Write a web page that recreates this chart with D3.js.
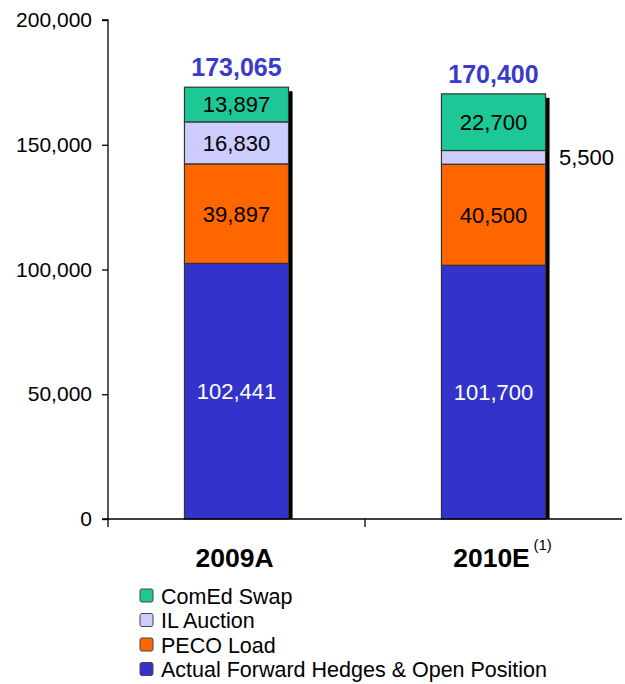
<!DOCTYPE html>
<html>
<head>
<meta charset="utf-8">
<script src="https://cdn.jsdelivr.net/npm/d3@7"></script>
<style>
  body { margin: 0; background: #fff; }
  svg { font-family: "Liberation Sans", Arial, sans-serif; }
</style>
</head>
<body>
<svg width="625" height="684"></svg>
<script>
// data
const categories = ["2009A", "2010E"];
const seriesNames = ["Actual Forward Hedges & Open Position", "PECO Load", "IL Auction", "ComEd Swap"];
const hedges = [102441, 101700];
const pecoLoad = [39897, 40500];
const ilAuction = [16830, 5500];
const comedSwap = [13897, 22700];
const totals = [173065, 170400];
const yTicks = [0, 50000, 100000, 150000, 200000];
const colors = ["#3333cc", "#ff6600", "#ccccff", "#1ec896"];

const svg = d3.select("svg");

const x = d3.scaleBand()
    .domain(categories)
    .range([108, 622])
    .paddingInner(0.595)
    .paddingOuter(0.2975);

const y = d3.scaleLinear()
    .domain([0, 200000])
    .range([519, 20]);

const fmt = d3.format(",");

const rows = categories.map((c, i) => ({
    cat: c,
    values: [hedges[i], pecoLoad[i], ilAuction[i], comedSwap[i]],
    total: totals[i]
}));

const stack = d3.stack().keys([0, 1, 2, 3]).value((d, k) => d.values[k]);
const layers = stack(rows);

// shadows
svg.append("g").selectAll("rect")
    .data(rows)
    .enter().append("rect")
    .attr("x", d => x(d.cat) + 4)
    .attr("y", d => y(d3.sum(d.values)) + 4)
    .attr("width", x.bandwidth())
    .attr("height", d => y(0) - y(d3.sum(d.values)) - 4)
    .attr("fill", "#000");

// stacked segments
const layer = svg.append("g").selectAll("g")
    .data(layers)
    .enter().append("g")
    .attr("fill", (d, i) => colors[i]);

layer.selectAll("rect")
    .data(d => d)
    .enter().append("rect")
    .attr("x", d => x(d.data.cat))
    .attr("y", d => y(d[1]))
    .attr("width", x.bandwidth())
    .attr("height", d => y(d[0]) - y(d[1]))
    .attr("stroke", "#333")
    .attr("stroke-width", 1.2);

// segment labels (thin ones go to the right of the bar)
layers.forEach((l, k) => {
    l.forEach(d => {
        const v = d[1] - d[0];
        const h = y(d[0]) - y(d[1]);
        const inside = h > 25;
        svg.append("text")
            .attr("x", inside ? x(d.data.cat) + x.bandwidth() / 2 : x(d.data.cat) + x.bandwidth() + 41)
            .attr("y", (y(d[0]) + y(d[1])) / 2)
            .attr("dy", "0.36em")
            .attr("text-anchor", "middle")
            .attr("font-size", 22)
            .attr("fill", k === 0 ? "#fff" : "#000")
            .text(fmt(v));
    });
});

// totals
svg.append("g").selectAll("text")
    .data(rows)
    .enter().append("text")
    .attr("x", d => x(d.cat) + x.bandwidth() / 2)
    .attr("y", d => y(d.total) - 11)
    .attr("text-anchor", "middle")
    .attr("font-size", 25)
    .attr("font-weight", "bold")
    .attr("fill", "#3a3acc")
    .text(d => fmt(d.total));

// y axis
const yAxis = svg.append("g")
    .attr("transform", "translate(108,0)")
    .call(d3.axisLeft(y).tickValues(yTicks).tickFormat(fmt).tickSize(6).tickPadding(10));
yAxis.select(".domain").attr("d", "M-6,20H0V519");
yAxis.selectAll("text").attr("font-size", 21).attr("fill", "#000").attr("font-family", null);
yAxis.selectAll("line, path").attr("stroke", "#000").attr("stroke-width", 1.3);

// x axis
const xr = x.range();
const xAxis = svg.append("g");
xAxis.append("line")
    .attr("x1", 102).attr("x2", xr[1])
    .attr("y1", y(0)).attr("y2", y(0))
    .attr("stroke", "#000").attr("stroke-width", 1.3);
xAxis.selectAll(".tk")
    .data([xr[0], (xr[0] + xr[1]) / 2])
    .enter().append("line")
    .attr("x1", d => d).attr("x2", d => d)
    .attr("y1", y(0)).attr("y2", y(0) + 8)
    .attr("stroke", "#000").attr("stroke-width", 1.3);

xAxis.selectAll(".cat")
    .data(categories)
    .enter().append("text")
    .attr("x", d => x(d) + x.bandwidth() / 2 - 2)
    .attr("y", 567)
    .attr("text-anchor", "middle")
    .attr("font-size", 26.5)
    .attr("font-weight", "bold")
    .text(d => d);

svg.append("text")
    .attr("x", x("2010E") + x.bandwidth() / 2 + 40)
    .attr("y", 550)
    .attr("font-size", 15)
    .text("(1)");

// legend
const legendItems = seriesNames.map((n, i) => ({ name: n, color: colors[i] })).reverse();
const legend = svg.append("g").selectAll("g")
    .data(legendItems)
    .enter().append("g")
    .attr("transform", (d, i) => `translate(140,${596 + i * 24.5})`);
legend.append("rect")
    .attr("x", 0).attr("y", -7)
    .attr("width", 13).attr("height", 13)
    .attr("rx", 2)
    .attr("fill", d => d.color)
    .attr("stroke", "#444");
legend.append("text")
    .attr("x", 21)
    .attr("dy", "0.36em")
    .attr("font-size", 21.5)
    .text(d => d.name);
</script>
</body>
</html>
